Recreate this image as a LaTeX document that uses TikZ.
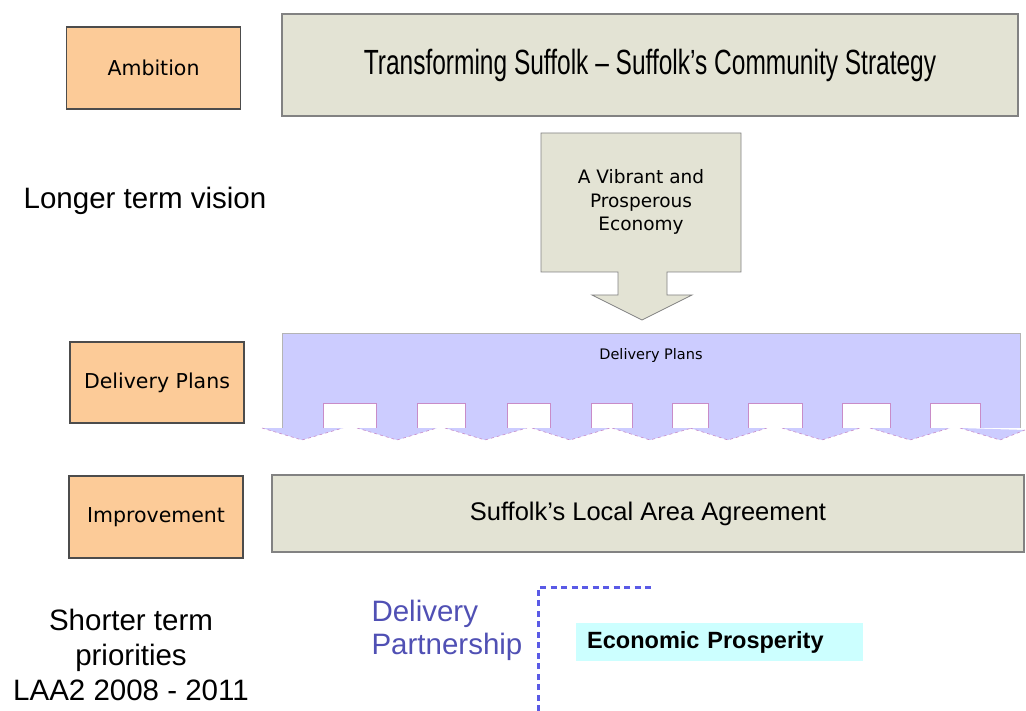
\documentclass[tikz,border=0pt]{standalone}
\usepackage{fontspec}
\setmainfont{Liberation Sans}
\newfontfamily\boxfont{DejaVu Sans}
\newfontfamily\titlefont[FakeStretch=0.7]{Liberation Sans}
\definecolor{stageorange}{RGB}{252,203,152}
\definecolor{plainbeige}{RGB}{227,227,212}
\definecolor{planlilac}{RGB}{204,204,255}
\definecolor{econcyan}{RGB}{204,255,255}
\definecolor{partnerblue}{RGB}{80,80,180}
\definecolor{dotblue}{RGB}{90,90,230}
\definecolor{edgegrey}{RGB}{130,130,130}
\definecolor{tippink}{RGB}{200,140,200}
\tikzset{
  stage/.style={draw=black!70, line width=1.1pt, fill=stageorange,
    minimum width=174pt, minimum height=82pt,
    font=\boxfont\fontsize{20.5}{24}\selectfont},
  plainbox/.style={draw=edgegrey, line width=1.2pt, fill=plainbeige},
  plantip/.style={fill=planlilac, draw=tippink, dashed, line width=0.6pt},
  notch/.style={fill=white, draw=tippink, line width=0.6pt},
  sidetext/.style={font=\fontsize{29.5}{35}\selectfont, align=center}
}
\begin{document}
\begin{tikzpicture}[x=1pt, y=-1pt]
      \useasboundingbox (0,0) rectangle (1026,711);
      % stages on the left
      \node[stage] (ambition) at (153.5,68) {Ambition};
      \node[stage, minimum height=81pt] (plans) at (157,382.5) {Delivery Plans};
      \node[stage] (improve) at (156,517) {Improvement};
      \node[sidetext] (longer) at (145,201) {Longer term vision};
      \node[sidetext] (shorter) at (131,655) {Shorter term\\priorities\\LAA2 2008 - 2011};
      % strategy and theme
      \node[plainbox, minimum width=736pt, minimum height=102pt,
        font=\titlefont\fontsize{35}{40}\selectfont] (strategy) at (650,65)
        {Transforming Suffolk – Suffolk’s Community Strategy};
      \draw[plainbox, line width=0.8pt] (541,133) -- (741,133) -- (741,272) -- (667,272)
        -- (667,295) -- (692,295) -- (642,320) -- (592,295) -- (618,295)
        -- (618,272) -- (541,272) -- cycle;
      \node[align=center, font=\boxfont\fontsize{18.5}{23.5}\selectfont] (vibrant) at (641,202)
        {A Vibrant and\\Prosperous\\Economy};
      % delivery plans band
      \fill[planlilac] (282,333) rectangle (1020,428);
      \draw[edgegrey!60, line width=0.6pt] (282,428) -- (282,333) -- (1020,333) -- (1020,428);
      \draw[plantip] (262,428) -- (302,440) -- (343,428);
      \draw[plantip] (357,428) -- (397,440) -- (437,428);
      \draw[plantip] (445,428) -- (485,440) -- (527,428);
      \draw[plantip] (532,428) -- (570,440) -- (610,428);
      \draw[plantip] (612,428) -- (650,440) -- (692,428);
      \draw[plantip] (690,428) -- (728,440) -- (767,428);
      \draw[plantip] (782,428) -- (822,440) -- (860,428);
      \draw[plantip] (870,428) -- (910,440) -- (950,428);
      \draw[plantip] (960,428) -- (1000,440) -- (1025,430);
      \draw[notch] (323,428) -- (323,403) -- (376,403) -- (376,428);
      \draw[notch] (417,428) -- (417,403) -- (465,403) -- (465,428);
      \draw[notch] (507,428) -- (507,403) -- (550,403) -- (550,428);
      \draw[notch] (591,428) -- (591,403) -- (632,403) -- (632,428);
      \draw[notch] (672,428) -- (672,403) -- (708,403) -- (708,428);
      \draw[notch] (748,428) -- (748,403) -- (802,403) -- (802,428);
      \draw[notch] (842,428) -- (842,403) -- (890,403) -- (890,428);
      \draw[notch] (930,428) -- (930,403) -- (980,403) -- (980,428);
      \node[font=\boxfont\fontsize{14.5}{17}\selectfont] (bandlabel) at (651,355) {Delivery Plans};
      % local area agreement
      \node[plainbox, minimum width=752pt, minimum height=77pt,
        font=\fontsize{25.5}{30}\selectfont] (laa) at (648,513.5)
        {Suffolk’s Local Area Agreement};
      % delivery partnership
      \node[anchor=west, align=left, text=partnerblue,
        font=\fontsize{29.5}{33}\selectfont] (partner) at (368,630)
        {Delivery\\Partnership};
      \coordinate (linefoot) at (538,711);
      \coordinate (linecorner) at (538,587);
      \coordinate (lineend) at (655,587);
      \draw[dotblue, line width=3pt, dash pattern=on 6pt off 4.5pt]
        (linefoot) -- (linecorner) -- (lineend);
      \node[fill=econcyan, anchor=west, minimum width=287pt, minimum height=38pt,
        text width=265pt, inner xsep=11pt, align=left,
        font=\bfseries\fontsize{23.5}{27}\selectfont] (econ) at (576,642)
        {Economic Prosperity};
\end{tikzpicture}
\end{document}
